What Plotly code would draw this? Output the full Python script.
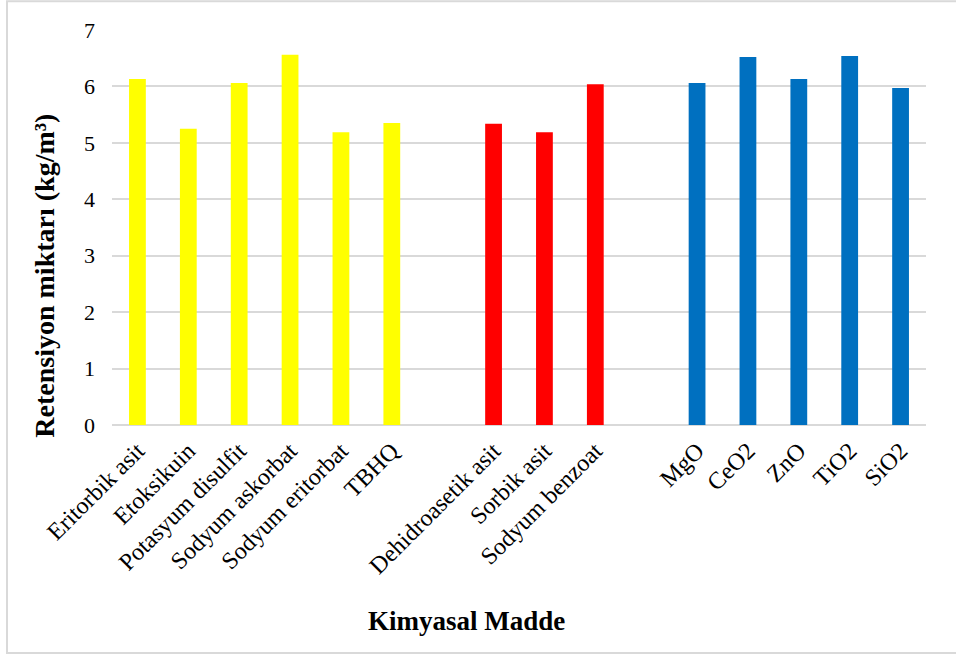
import plotly.graph_objects as go

# Retention amounts (kg/m3) per chemical, grouped by class
antioxidants = ["Eritorbik asit", "Etoksikuin", "Potasyum disulfit", "Sodyum askorbat",
                "Sodyum eritorbat", "TBHQ"]
antioxidant_vals = [6.13, 5.25, 6.06, 6.56, 5.19, 5.35]

preservatives = ["Dehidroasetik asit", "Sorbik asit", "Sodyum benzoat"]
preservative_vals = [5.34, 5.19, 6.04]

oxides = ["MgO", "CeO2", "ZnO", "TiO2", "SiO2"]
oxide_vals = [6.06, 6.52, 6.13, 6.54, 5.97]

y_ticks = [0, 1, 2, 3, 4, 5, 6, 7]

groups = [
    (antioxidants, antioxidant_vals, "#FFFF00"),
    (preservatives, preservative_vals, "#FF0000"),
    (oxides, oxide_vals, "#0070C0"),
]

fig = go.Figure()
tickvals, ticktext = [], []
pos = 0
for names, vals, color in groups:
    xs = list(range(pos, pos + len(names)))
    fig.add_trace(go.Bar(x=xs, y=vals, marker=dict(color=color, line=dict(width=0)),
                         width=0.33, showlegend=False))
    tickvals += xs
    ticktext += names
    pos += len(names) + 1  # one empty slot between groups

n_slots = pos - 1
font_family = "Liberation Serif, Times New Roman, serif"

fig.update_layout(
    width=956, height=656,
    margin=dict(l=112, r=30, t=30, b=230.5),
    paper_bgcolor="white", plot_bgcolor="white",
    barmode="overlay",
    font=dict(family=font_family, size=22, color="#000000"),
    xaxis=dict(range=[-0.5, n_slots - 0.5], tickmode="array", tickvals=tickvals,
               ticktext=ticktext, tickangle=-45, showgrid=False, zeroline=False,
               showline=False, ticks="", tickfont=dict(size=24), ticklabelstandoff=6),
    yaxis=dict(range=[0, 7], tickvals=y_ticks, showgrid=True, gridcolor="#D9D9D9",
               gridwidth=1.5, zeroline=True, zerolinecolor="#D9D9D9", zerolinewidth=1.5,
               showline=False, ticks="", tickfont=dict(size=22), ticklabelstandoff=16),
    annotations=[
        dict(text="<b>Retensiyon miktarı (kg/m³)</b>", xref="paper", yref="paper",
             x=-0.0823, y=0.378, textangle=-90, showarrow=False,
             font=dict(size=28, family=font_family), xanchor="center", yanchor="middle"),
        dict(text="<b>Kimyasal Madde</b>", xref="paper", yref="paper",
             x=0.435, y=-0.4965, showarrow=False,
             font=dict(size=27, family=font_family), xanchor="center", yanchor="middle"),
    ],
    shapes=[
        dict(type="rect", xref="paper", yref="paper", x0=-0.129, x1=1.039,
             y0=-0.577, y1=1.0725, line=dict(color="#D9D9D9", width=2),
             fillcolor="rgba(0,0,0,0)", layer="below"),
    ],
)

fig.write_html("out.html")
